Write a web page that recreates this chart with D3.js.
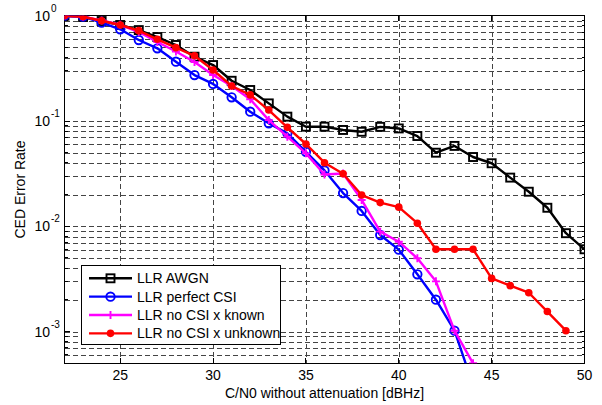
<!DOCTYPE html>
<html>
<head>
<meta charset="utf-8">
<script src="https://cdn.jsdelivr.net/npm/d3@7"></script>
<style>
  body { margin: 0; background: #fff; }
  svg { font-family: "Liberation Sans", Arial, sans-serif; }
</style>
</head>
<body>
<svg id="chart" width="602" height="405"></svg>
<script>
// C/N0 values (dBHz)
const snr = d3.range(22, 51);

const awgn = [1.0, 0.972, 0.89, 0.816, 0.73, 0.627, 0.527, 0.408, 0.34, 0.241,
  0.197, 0.147, 0.11, 0.0883, 0.0883, 0.0822, 0.079, 0.088, 0.085, 0.072,
  0.05, 0.058, 0.0455, 0.0397, 0.029, 0.0213, 0.015, 0.0086, 0.00605];
const perfectCsi = [1.0, 0.978, 0.858, 0.743, 0.588, 0.49, 0.366, 0.273, 0.225, 0.168,
  0.1226, 0.095, 0.0764, 0.051, 0.0339, 0.0207, 0.014, 0.00827, 0.006, 0.0035,
  0.00201, 0.00102, 0.00031];
const noCsiKnown = [1.0, 0.98, 0.9, 0.82, 0.7, 0.563, 0.457, 0.363, 0.273, 0.215,
  0.161, 0.102, 0.071, 0.0493, 0.031, 0.0317, 0.0178, 0.0089, 0.00714, 0.00497,
  0.003, 0.00102, 0.0005];
const noCsiUnknown = [1.0, 0.978, 0.896, 0.816, 0.721, 0.597, 0.497, 0.416, 0.305, 0.215,
  0.177, 0.127, 0.087, 0.0605, 0.0402, 0.0316, 0.0198, 0.0168, 0.0152, 0.0107,
  0.00605, 0.00605, 0.00605, 0.0032, 0.00273, 0.00234, 0.00155, 0.00102];

const xTicks = [25, 30, 35, 40, 45, 50];
const yTicks = [0, -1, -2, -3];   // exponents

const series = [
  { name: "LLR AWGN", values: awgn, color: "#000000", marker: "square" },
  { name: "LLR perfect CSI", values: perfectCsi, color: "#0000ff", marker: "circle" },
  { name: "LLR no CSI x known", values: noCsiKnown, color: "#ff00ff", marker: "plus" },
  { name: "LLR no CSI x unknown", values: noCsiUnknown, color: "#ff0000", marker: "dot" },
];

const svg = d3.select("#chart");
const pLeft = 64.5, pRight = 584.5, pTop = 15.7, pBottom = 363.3;

const x = d3.scaleLinear().domain([22, 50]).range([pLeft, pRight]);
const y = d3.scaleLog().domain([5e-4, 1]).range([pBottom, pTop]);

svg.append("defs").append("clipPath").attr("id", "clip")
  .append("rect")
  .attr("x", pLeft).attr("y", pTop)
  .attr("width", pRight - pLeft).attr("height", pBottom - pTop);

// grid
const grid = svg.append("g")
  .attr("stroke", "#444")
  .attr("stroke-width", 1)
  .attr("stroke-dasharray", "5,3")
  .attr("shape-rendering", "crispEdges");

const minorVals = [];
for (let e = -4; e <= 0; e++) {
  for (let m = 1; m <= 9; m++) {
    const v = m * Math.pow(10, e);
    if (v >= 5e-4 && v <= 1) minorVals.push(v);
  }
}
grid.selectAll(".hg")
  .data(minorVals.filter(v => v > 5e-4 && v < 1))
  .enter().append("line")
  .attr("x1", pLeft).attr("x2", pRight)
  .attr("y1", d => Math.round(y(d)) + 0.5).attr("y2", d => Math.round(y(d)) + 0.5);

grid.selectAll(".vg")
  .data(xTicks.filter(d => d < 50))
  .enter().append("line")
  .attr("x1", d => Math.round(x(d)) + 0.5).attr("x2", d => Math.round(x(d)) + 0.5)
  .attr("y1", pTop).attr("y2", pBottom);

// axes box and ticks (inward, MATLAB style)
const axes = svg.append("g").attr("stroke", "#000").attr("stroke-width", 1)
  .attr("shape-rendering", "crispEdges");
axes.append("rect")
  .attr("x", pLeft).attr("y", pTop)
  .attr("width", pRight - pLeft).attr("height", pBottom - pTop)
  .attr("fill", "none");

axes.selectAll(".xt")
  .data(xTicks)
  .enter().append("path")
  .attr("d", d => `M${x(d)},${pBottom}v-5M${x(d)},${pTop}v5`);

axes.selectAll(".yt")
  .data(minorVals)
  .enter().append("path")
  .attr("d", d => {
    const len = Number.isInteger(Math.log10(d)) ? 5 : 3;
    return `M${pLeft},${y(d)}h${len}M${pRight},${y(d)}h${-len}`;
  });

// tick labels
svg.selectAll(".xl")
  .data(xTicks)
  .enter().append("text")
  .attr("x", d => x(d))
  .attr("y", 380)
  .attr("text-anchor", "middle")
  .attr("font-size", 14)
  .text(d => d);

const yl = svg.selectAll(".yl")
  .data(yTicks)
  .enter().append("g")
  .attr("transform", d => `translate(0,${y(Math.pow(10, d))})`);
yl.append("text")
  .attr("x", 50).attr("y", 5)
  .attr("text-anchor", "end")
  .attr("font-size", 14)
  .text("10");
yl.append("text")
  .attr("x", 51).attr("y", -4)
  .attr("font-size", 10)
  .text(d => d);

// axis titles
svg.append("text")
  .attr("x", (pLeft + pRight) / 2).attr("y", 398)
  .attr("text-anchor", "middle")
  .attr("font-size", 14)
  .text("C/N0 without attenuation [dBHz]");

svg.append("text")
  .attr("transform", `translate(25,${(pTop + pBottom) / 2}) rotate(-90)`)
  .attr("text-anchor", "middle")
  .attr("font-size", 14)
  .text("CED Error Rate");

// markers
function drawMarker(g, type, color) {
  if (type === "square") {
    g.append("rect").attr("x", -4).attr("y", -4).attr("width", 8).attr("height", 8)
      .attr("fill", "none").attr("stroke", color).attr("stroke-width", 1.9);
  } else if (type === "circle") {
    g.append("circle").attr("r", 4.2).attr("fill", "none")
      .attr("stroke", color).attr("stroke-width", 1.9);
  } else if (type === "plus") {
    g.append("path").attr("d", "M-4,0h8M0,-4v8")
      .attr("stroke", color).attr("stroke-width", 1.9);
  } else {
    g.append("circle").attr("r", 3.8).attr("fill", color);
  }
}

const plot = svg.append("g").attr("clip-path", "url(#clip)");
const line = d3.line().x((d, i) => x(snr[i])).y(d => y(d));

series.forEach(s => {
  plot.append("path")
    .datum(s.values)
    .attr("fill", "none")
    .attr("stroke", s.color)
    .attr("stroke-width", 2.4)
    .attr("stroke-linejoin", "round")
    .attr("d", line);
  plot.selectAll(null)
    .data(s.values)
    .enter().append("g")
    .attr("transform", (d, i) => `translate(${x(snr[i])},${y(d)})`)
    .each(function () { drawMarker(d3.select(this), s.marker, s.color); });
});

// legend
const lg = svg.append("g");
lg.append("rect")
  .attr("x", 81.5).attr("y", 265.5)
  .attr("width", 199).attr("height", 79)
  .attr("fill", "#fff").attr("stroke", "#000").attr("stroke-width", 1);

const entry = lg.selectAll(".le")
  .data(series)
  .enter().append("g")
  .attr("transform", (d, i) => `translate(0,${278.3 + i * 18.35})`);
entry.append("line")
  .attr("x1", 89).attr("x2", 132)
  .attr("stroke", d => d.color).attr("stroke-width", 2.4);
entry.append("g")
  .attr("transform", "translate(110.5,0)")
  .each(function (d) { drawMarker(d3.select(this), d.marker, d.color); });
entry.append("text")
  .attr("x", 137).attr("y", 5)
  .attr("font-size", 14)
  .text(d => d.name);
</script>
</body>
</html>
